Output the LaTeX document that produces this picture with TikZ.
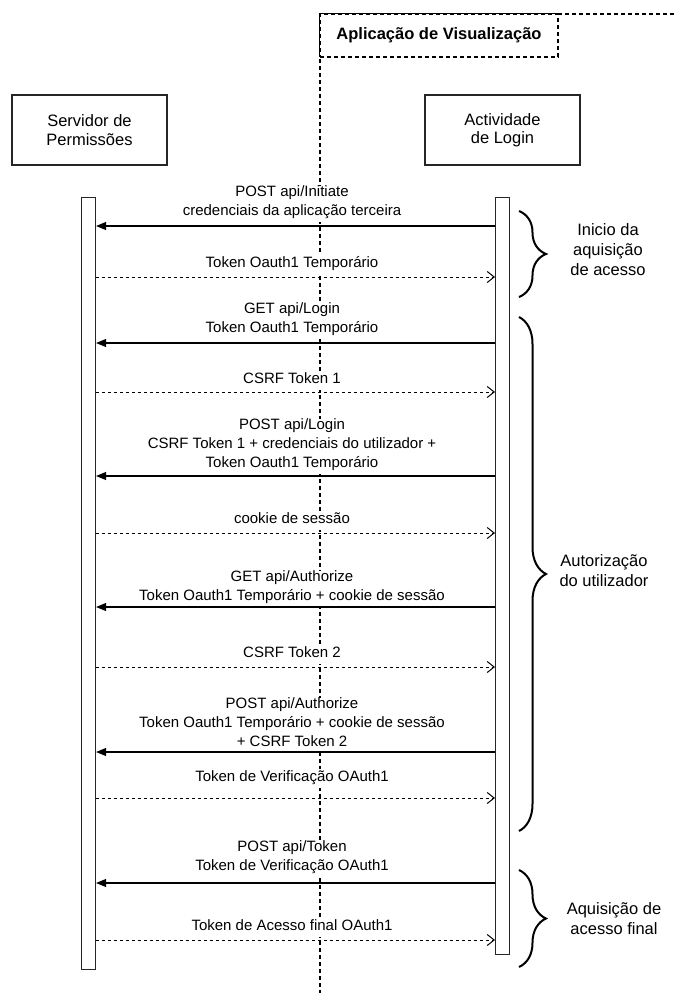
\documentclass[tikz,border=0pt]{standalone}
\usepackage{fontspec}
\setmainfont{Liberation Sans}
\usetikzlibrary{arrows.meta,decorations.pathreplacing}
\begin{document}
\begin{tikzpicture}[x=1pt,y=-1pt,
  actor/.style={draw=black!85, line width=1.1pt, fill=white, align=center,
    font=\fontsize{16.5}{18.5}\selectfont, inner sep=0pt,
    minimum width=155pt, minimum height=70pt},
  bar/.style={draw=black!85, line width=1.1pt, fill=white, inner sep=0pt,
    minimum width=14pt, anchor=north west},
  msg/.style={fill=white, align=center, font=\fontsize{15}{19}\selectfont,
    inner xsep=2pt, inner ysep=0pt, anchor=south, execute at end node=\strut},
  call/.style={draw=black, line width=1.1pt, -{Triangle[length=10pt,width=8pt]}},
  reply/.style={draw=black, line width=1pt, dash pattern=on 3pt off 3pt,
    -{Straight Barb[length=7pt,width=11pt,line width=1pt]}},
  grp/.style={draw=black, line width=2pt, decorate,
    decoration={brace, amplitude=27pt}},
  side/.style={align=center, font=\fontsize{16.5}{20}\selectfont, inner sep=0pt},
  frameline/.style={draw=black, line width=1.2pt, dash pattern=on 4pt off 3pt}]

\useasboundingbox (0,0) rectangle (674,993);

% application boundary
\draw[frameline] (674,14) -- (320,14) -- (320,993);
\node[frameline, fill=white, minimum width=238pt, minimum height=43pt, inner sep=0pt,
  font=\fontsize{16.5}{18}\selectfont\bfseries] (app) at (439,35.5) {Aplicação de Visualização};

% participants
\node[actor] (srv) at (89.5,130) {Servidor de\\Permissões};
\node[actor] (act) at (502.5,130) {Actividade\\de Login};

% activation bars
\node[bar, minimum height=772pt] (L) at (81,197) {};
\node[bar, minimum height=757pt] (R) at (495,197) {};

% message labels
\node[msg] (m1) at (292,221.7) {POST api/Initiate\\credenciais da aplicação terceira};
\node[msg] (m2) at (292,273.7) {Token Oauth1 Temporário};
\node[msg] (m3) at (292,338.7) {GET api/Login\\Token Oauth1 Temporário};
\node[msg] (m4) at (292,389.7) {CSRF Token 1};
\node[msg] (m5) at (292,473.7) {POST api/Login\\CSRF Token 1 + credenciais do utilizador +\\Token Oauth1 Temporário};
\node[msg] (m6) at (292,529.7) {cookie de sessão};
\node[msg] (m7) at (292,606.7) {GET api/Authorize\\Token Oauth1 Temporário + cookie de sessão};
\node[msg] (m8) at (292,663.7) {CSRF Token 2};
\node[msg] (m9) at (292,752.7) {POST api/Authorize\\Token Oauth1 Temporário + cookie de sessão\\+ CSRF Token 2};
\node[msg] (m10) at (292,787.7) {Token de Verificação OAuth1};
\node[msg] (m11) at (292,876.7) {POST api/Token\\Token de Verificação OAuth1};
\node[msg] (m12) at (292,936.7) {Token de Acesso final OAuth1};

% messages
\draw[call]  (R.west |- 0,226) -- (L.east |- 0,226);
\draw[reply] (L.east |- 0,277) -- (R.west |- 0,277);
\draw[call]  (R.west |- 0,343) -- (L.east |- 0,343);
\draw[reply] (L.east |- 0,392) -- (R.west |- 0,392);
\draw[call]  (R.west |- 0,476) -- (L.east |- 0,476);
\draw[reply] (L.east |- 0,533) -- (R.west |- 0,533);
\draw[call]  (R.west |- 0,607) -- (L.east |- 0,607);
\draw[reply] (L.east |- 0,667) -- (R.west |- 0,667);
\draw[call]  (R.west |- 0,752) -- (L.east |- 0,752);
\draw[reply] (L.east |- 0,798) -- (R.west |- 0,798);
\draw[call]  (R.west |- 0,883) -- (L.east |- 0,883);
\draw[reply] (L.east |- 0,940) -- (R.west |- 0,940);

% phase braces
\coordinate (b1a) at (519,211);
\coordinate (b1b) at (519,297);
\coordinate (b2a) at (519,317);
\coordinate (b2b) at (519,831);
\coordinate (b3a) at (519,870);
\coordinate (b3b) at (519,967);
\draw[grp] (b1a) -- (b1b);
\draw[grp] (b2a) -- (b2b);
\draw[grp] (b3a) -- (b3b);

\node[side] (p1) at (608,250) {Inicio da\\aquisição\\de acesso};
\node[side] (p2) at (604,571) {Autorização\\do utilizador};
\node[side] (p3) at (614,919) {Aquisição de\\acesso final};
\end{tikzpicture}
\end{document}
